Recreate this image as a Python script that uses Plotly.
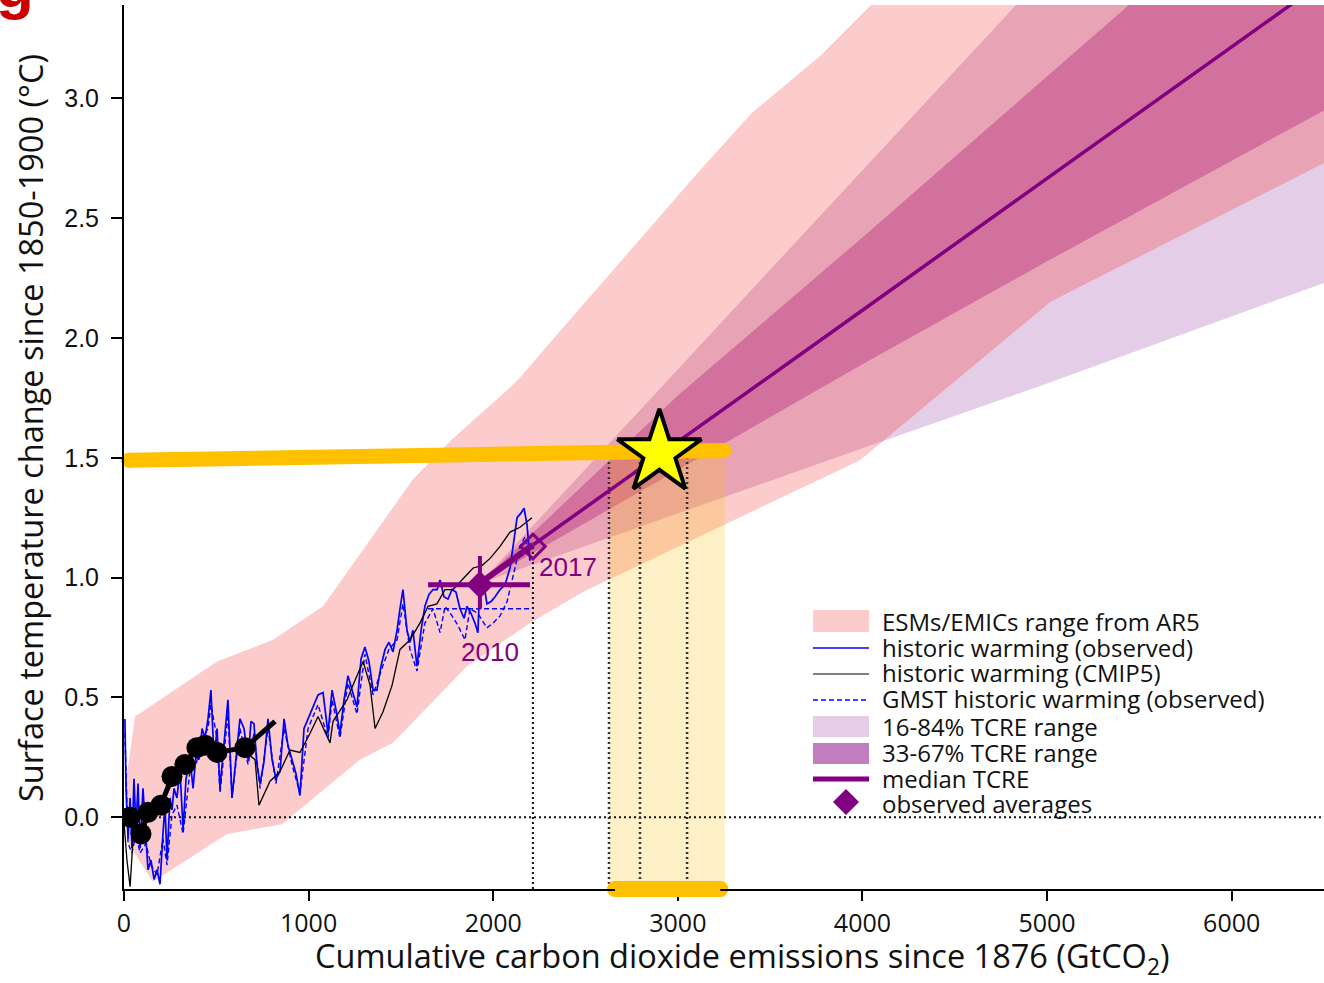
import numpy as np
import plotly.graph_objects as go

# ---------------- data (GtCO2, degC) ----------------
# ESMs/EMICs range from AR5 (upper and lower envelopes)
esm_up_x = [5, 60, 504, 807, 1078, 1565, 1782, 2129, 2307, 3120, 3402, 3775, 4046, 4460, 6500]
esm_up_y = [0.12, 0.42, 0.65, 0.74, 0.88, 1.41, 1.58, 1.82, 1.98, 2.70, 2.94, 3.18, 3.39, 3.70, 3.70]
esm_lo_x = [15, 157, 558, 856, 1278, 1457, 1858, 2199, 2486, 3987, 5032, 6500]
esm_lo_y = [-0.10, -0.27, -0.07, -0.03, 0.24, 0.31, 0.63, 0.81, 0.94, 1.49, 2.16, 2.73]

# TCRE ranges
fan_x = [1925, 3000, 4000, 5000, 6500]
tcre_p16 = [0.975, 1.27, 1.54, 1.81, 2.23]
tcre_p84 = [0.975, 1.87, 2.70, 3.53, 4.77]
tcre_p33 = [0.975, 1.45, 1.89, 2.32, 2.95]
tcre_p67 = [0.975, 1.76, 2.42, 3.09, 4.10]
med_x = [1925, 2215, 3000, 4000, 5000, 6500]
med_y = [0.975, 1.136, 1.566, 2.116, 2.666, 3.49]

# historic warming (observed)
obs_x = [5, 11, 22, 33, 43, 54, 65, 76, 87, 103, 119, 130, 146, 163, 179, 195, 211, 222, 233, 249,
         260, 271, 287, 303, 320, 336, 358, 374, 390, 406, 423, 439, 455, 471, 488, 504, 520, 542, 563, 585,
         607, 628, 650, 672, 688, 704, 720, 737, 758, 780, 802, 823, 845, 867, 888, 910, 932, 953, 975, 997,
         1024, 1051, 1078, 1105, 1127, 1148, 1170, 1192, 1213, 1235, 1262, 1284, 1305, 1327, 1349, 1370, 1392, 1414, 1435, 1457,
         1479, 1495, 1511, 1533, 1549, 1565, 1587, 1609, 1630, 1652, 1674, 1696, 1712, 1733, 1755, 1777, 1798, 1820, 1842, 1858,
         1880, 1901, 1917, 1928, 1945, 1966, 1988, 2010, 2037, 2064, 2091, 2113, 2129, 2151, 2167, 2183, 2199]
obs_y = [0.41, 0.12, -0.09, 0.08, -0.13, 0.16, -0.05, 0.14, -0.13, 0.12, -0.09, -0.22, -0.18, -0.26, -0.22, -0.28, -0.07, 0.05, -0.18, 0.08,
         0.03, 0.12, 0.08, 0.20, -0.05, 0.16, 0.24, 0.12, 0.26, 0.24, 0.37, 0.33, 0.41, 0.53, 0.24, 0.37, 0.12, 0.30, 0.49, 0.08,
         0.24, 0.41, 0.37, 0.24, 0.40, 0.39, 0.22, 0.14, 0.23, 0.41, 0.24, 0.16, 0.19, 0.41, 0.30, 0.24, 0.18, 0.09, 0.37, 0.41,
         0.46, 0.51, 0.52, 0.35, 0.53, 0.45, 0.35, 0.49, 0.59, 0.53, 0.46, 0.66, 0.71, 0.65, 0.53, 0.53, 0.63, 0.70, 0.73, 0.69,
         0.78, 0.87, 0.95, 0.78, 0.73, 0.78, 0.63, 0.78, 0.88, 0.93, 0.95, 0.95, 0.99, 0.92, 0.91, 0.95, 0.94, 0.87, 0.83, 0.88,
         0.85, 0.81, 0.77, 0.99, 0.99, 0.89, 0.90, 0.92, 0.95, 0.97, 1.04, 1.16, 1.25, 1.27, 1.29, 1.22, 1.07]

# GMST historic warming (observed)
gmst_x = [5, 22, 43, 65, 87, 119, 146, 179, 211, 233, 260, 287, 320, 358, 390, 423, 455, 471, 504, 520,
          563, 585, 628, 672, 704, 737, 780, 823, 867, 910, 953, 997, 1051, 1105, 1127, 1170, 1213, 1262, 1305, 1349,
          1392, 1435, 1479, 1511, 1549, 1587, 1630, 1674, 1712, 1739, 1777, 1809, 1847, 1874, 1917, 1966, 1999, 2037, 2075, 2118,
          2145, 2172, 2199]
gmst_y = [0.35, -0.11, -0.15, -0.07, -0.15, -0.11, -0.20, -0.24, -0.09, -0.20, 0.01, 0.05, -0.07, 0.20, 0.22, 0.33, 0.37, 0.47, 0.33, 0.10,
          0.43, 0.08, 0.37, 0.22, 0.35, 0.12, 0.37, 0.14, 0.37, 0.22, 0.10, 0.37, 0.47, 0.33, 0.49, 0.33, 0.56, 0.43, 0.68, 0.51,
          0.61, 0.70, 0.74, 0.89, 0.70, 0.61, 0.81, 0.87, 0.77, 0.88, 0.84, 0.80, 0.74, 0.87, 0.85, 0.79, 0.81, 0.84, 0.90, 1.05,
          1.13, 1.17, 1.08]
gmst_ref_x = [1647, 2210]
gmst_ref_y = [0.87, 0.87]

# historic warming (CMIP5)
cmip_x = [0, 16, 33, 49, 70, 98, 141, 195, 260, 330, 395, 466, 547, 628, 710, 731, 791, 845, 899, 953,
          1008, 1051, 1116, 1132, 1208, 1240, 1295, 1333, 1360, 1403, 1452, 1495, 1549, 1603, 1647, 1695, 1739, 1782, 1820, 1858,
          1891, 1939, 1983, 2037, 2091, 2145, 2210]
cmip_y = [-0.02, -0.18, -0.29, -0.09, -0.03, -0.07, 0.01, 0.04, 0.14, 0.21, 0.28, 0.28, 0.28, 0.29, 0.24, 0.05, 0.15, 0.19, 0.28, 0.27,
          0.35, 0.42, 0.31, 0.40, 0.49, 0.55, 0.65, 0.55, 0.37, 0.44, 0.55, 0.70, 0.74, 0.81, 0.88, 0.89, 0.95, 0.95, 0.98, 1.01,
          1.04, 1.05, 1.08, 1.13, 1.19, 1.21, 1.25]

# early observed averages (black dots)
avg_x = [32, 92, 130, 200, 260, 330, 395, 439, 504, 655]
avg_y = [0.00, -0.07, 0.02, 0.05, 0.17, 0.22, 0.29, 0.30, 0.27, 0.29]
avg_tail_x = [655, 818]
avg_tail_y = [0.29, 0.40]

# observed averages 2010 and 2017
obs2010_x, obs2010_y = 1928, 0.97
obs2010_xerr = [1647, 2199]
obs2010_yerr = [0.87, 1.09]
obs2017_x, obs2017_y = 2215, 1.13

# 1.5 degC budget overlay
target_T = 1.5
budget_lines = [2627, 2795, 3050]
budget_box = [2627, 3255]
star_x, star_y = 2900, 1.52
bar15_x = [25, 3250]
bar15_y = [1.49, 1.53]
bar_bottom_x = [2660, 3230]

x_ticks = [0, 1000, 2000, 3000, 4000, 5000, 6000]
y_ticks = [0.0, 0.5, 1.0, 1.5, 2.0, 2.5, 3.0]
y_ticklabels = ["0.0", "0.5", "1.0", "1.5", "2.0", "2.5", "3.0"]

legend_labels = ["ESMs/EMICs range from AR5", "historic warming (observed)", "historic warming (CMIP5)",
                 "GMST historic warming (observed)", "16-84% TCRE range", "33-67% TCRE range",
                 "median TCRE", "observed averages"]

# ---------------- style ----------------
C_ESM = "#fccbcb"
C_MID = "#e8a3b5"
C_LAV = "#e4cde6"
C_DARK = "#d2709e"
C_PURPLE = "#800080"
C_YEL = "#ffc000"
XR = [0, 6500]
YR = [-0.3, 3.39]
W, H = 1324, 983
ML, MR, MT, MB = 124, 0, 5, 94
PW, PH = W - ML - MR, H - MT - MB


def fx(px):
    return (px - ML) / PW


def fy(py):
    return (MT + PH - py) / PH


def dx(v):
    return (v - XR[0]) / (XR[1] - XR[0])


fig = go.Figure()


def band(xu, yu, xl, yl, color):
    fig.add_trace(go.Scatter(x=list(xu) + list(xl)[::-1], y=list(yu) + list(yl)[::-1],
                             mode="lines", fill="toself", fillcolor=color, line=dict(width=0),
                             hoverinfo="skip", showlegend=False))


def line(x, y, color, width, dash=None, mode="lines", **kw):
    fig.add_trace(go.Scatter(x=x, y=y, mode=mode, line=dict(color=color, width=width, dash=dash),
                             hoverinfo="skip", showlegend=False, **kw))


# 16-84 band (outside ESM range shows lavender)
band(fan_x, tcre_p84, fan_x, tcre_p16, C_LAV)
# ESM range
band(esm_up_x, esm_up_y, esm_lo_x, esm_lo_y, C_ESM)
# overlap 16-84 with ESM
xs = np.linspace(fan_x[0], fan_x[-1], 400)
top = np.minimum(np.interp(xs, fan_x, tcre_p84), np.interp(xs, esm_up_x, esm_up_y))
bot = np.maximum(np.interp(xs, fan_x, tcre_p16), np.interp(xs, esm_lo_x, esm_lo_y))
band(xs, top, xs, bot, C_MID)
# 33-67 band
band(fan_x, tcre_p67, fan_x, tcre_p33, C_DARK)

# yellow budget box
band(budget_box, [target_T, target_T], budget_box, [YR[0], YR[0]], "rgba(255,192,0,0.22)")

# dotted reference lines
line(XR, [0, 0], "#111111", 2, dash="2px,3px")
line([obs2017_x, obs2017_x], [YR[0], obs2017_y], "#111111", 2, dash="2px,3px")
for bx in budget_lines:
    line([bx, bx], [YR[0], target_T], "#333333", 2.5, dash="2px,3px")

# historic
line(obs_x, obs_y, "#0000ff", 1.7)
line(gmst_x, gmst_y, "#0000ff", 1.4, dash="5px,3px")
line(gmst_ref_x, gmst_ref_y, "#0000ff", 1.4, dash="5px,3px")
line(cmip_x, cmip_y, "#000000", 1.3)
line(avg_tail_x, avg_tail_y, "#000000", 5)
line(avg_x, avg_y, "#000000", 5, mode="lines+markers", marker=dict(size=21, color="#000000"))

# median TCRE
line(med_x[:2], med_y[:2], C_PURPLE, 6)
line(med_x[1:], med_y[1:], C_PURPLE, 3.5)

# observed averages
line(obs2010_xerr, [obs2010_y, obs2010_y], C_PURPLE, 5)
line([obs2010_x, obs2010_x], obs2010_yerr, C_PURPLE, 4)
fig.add_trace(go.Scatter(x=[obs2010_x], y=[obs2010_y], mode="markers",
                         marker=dict(symbol="diamond", size=21, color=C_PURPLE),
                         hoverinfo="skip", showlegend=False))
fig.add_trace(go.Scatter(x=[obs2017_x], y=[obs2017_y], mode="markers",
                         marker=dict(symbol="diamond-open", size=19, color=C_PURPLE, line=dict(width=3, color=C_PURPLE)),
                         hoverinfo="skip", showlegend=False))

# 1.5 degC yellow bars
line(bar15_x, bar15_y, C_YEL, 15)
fig.add_trace(go.Scatter(x=bar15_x, y=bar15_y, mode="markers", cliponaxis=False,
                         marker=dict(size=15, color=C_YEL), hoverinfo="skip", showlegend=False))
fig.add_shape(type="line", xref="paper", yref="paper", x0=dx(bar_bottom_x[0]), x1=dx(bar_bottom_x[1]),
              y0=0, y1=0, line=dict(color=C_YEL, width=16), layer="above")
fig.add_trace(go.Scatter(x=bar_bottom_x, y=[YR[0], YR[0]], mode="markers", cliponaxis=False,
                         marker=dict(size=16, color=C_YEL), hoverinfo="skip", showlegend=False))

# star
fig.add_trace(go.Scatter(x=[star_x], y=[star_y], mode="markers", cliponaxis=False,
                         marker=dict(symbol="star", size=63, color="#ffff00", line=dict(color="#000000", width=4)),
                         hoverinfo="skip", showlegend=False))

# year labels
fig.add_annotation(x=1983, y=0.69, text="2010", showarrow=False,
                   font=dict(family="Liberation Sans, Arial", size=26, color=C_PURPLE))
fig.add_annotation(x=2405, y=1.044, text="2017", showarrow=False,
                   font=dict(family="Liberation Sans, Arial", size=26, color=C_PURPLE))

# ---------------- legend (manual) ----------------
LEG_FONT = dict(family="Open Sans, Liberation Sans", size=24, color="#111111")
rows = [621, 647, 672, 698, 726, 752, 778, 803]
sx0, sx1, tx = 813, 869, 881
for i, (lab, ry) in enumerate(zip(legend_labels, rows)):
    fig.add_annotation(xref="paper", yref="paper", x=fx(tx), y=fy(ry), xanchor="left", yanchor="middle",
                       text=lab, showarrow=False, font=LEG_FONT, borderpad=0)
fig.add_shape(type="rect", xref="paper", yref="paper", x0=fx(sx0), x1=fx(sx1), y0=fy(632), y1=fy(610),
              fillcolor=C_ESM, line=dict(width=0), layer="above")
fig.add_shape(type="line", xref="paper", yref="paper", x0=fx(sx0), x1=fx(sx1), y0=fy(648), y1=fy(648),
              line=dict(color="#0000ff", width=1.5), layer="above")
fig.add_shape(type="line", xref="paper", yref="paper", x0=fx(sx0), x1=fx(sx1), y0=fy(674), y1=fy(674),
              line=dict(color="#000000", width=1.2), layer="above")
fig.add_shape(type="line", xref="paper", yref="paper", x0=fx(sx0), x1=fx(sx1), y0=fy(700), y1=fy(700),
              line=dict(color="#0000ff", width=1.3, dash="5px,3px"), layer="above")
fig.add_shape(type="rect", xref="paper", yref="paper", x0=fx(sx0), x1=fx(sx1), y0=fy(737), y1=fy(716),
              fillcolor="#e6cde6", line=dict(width=0), layer="above")
fig.add_shape(type="rect", xref="paper", yref="paper", x0=fx(sx0), x1=fx(sx1), y0=fy(764), y1=fy(743),
              fillcolor="#c17fbf", line=dict(width=0), layer="above")
fig.add_shape(type="line", xref="paper", yref="paper", x0=fx(sx0), x1=fx(sx1), y0=fy(779), y1=fy(779),
              line=dict(color=C_PURPLE, width=5), layer="above")
fig.add_shape(type="path", xref="paper", yref="paper",
              path="M {a},{b} L {c},{d} L {a},{e} L {f},{d} Z".format(a=fx(846), b=fy(789), c=fx(859), d=fy(802), e=fy(815), f=fx(833)),
              fillcolor=C_PURPLE, line=dict(width=0), layer="above")

# axis titles
TITLE_FONT = dict(family="Open Sans, Liberation Sans", size=32.5, color="#111111")
fig.add_annotation(xref="paper", yref="paper", x=fx(742), y=fy(957), xanchor="center", yanchor="middle",
                   text="Cumulative carbon dioxide emissions since 1876 (GtCO<sub>2</sub>)", showarrow=False,
                   font=TITLE_FONT, borderpad=0)
fig.add_annotation(xref="paper", yref="paper", x=fx(31), y=fy(428), xanchor="center", yanchor="middle",
                   text="Surface temperature change since 1850-1900 (°C)", textangle=-90, showarrow=False,
                   font=TITLE_FONT)
# panel label (cut off at the top)
fig.add_annotation(xref="paper", yref="paper", x=fx(-6), y=fy(22), xanchor="left", yanchor="bottom",
                   text="<b>g</b>", showarrow=False,
                   font=dict(family="Liberation Sans, Arial", size=62, color="#cc0000"))

fig.update_layout(
    width=W, height=H, margin=dict(l=ML, r=MR, t=MT, b=MB, pad=0),
    paper_bgcolor="white", plot_bgcolor="white", showlegend=False,
    xaxis=dict(range=XR, showgrid=False, zeroline=False, showline=True, linecolor="#000000", linewidth=2,
               ticks="outside", ticklen=10, tickwidth=2, tickcolor="#000000",
               tickvals=x_ticks, ticktext=[str(v) for v in x_ticks], ticklabelstandoff=1,
               tickfont=dict(family="Open Sans, Liberation Sans", size=25, color="#111111")),
    yaxis=dict(range=YR, showgrid=False, zeroline=False, showline=True, linecolor="#000000", linewidth=2,
               ticks="outside", ticklen=11, tickwidth=2, tickcolor="#000000",
               tickvals=y_ticks, ticktext=y_ticklabels, ticklabelstandoff=7,
               tickfont=dict(family="Liberation Sans, Arial", size=25, color="#111111")),
)

fig.write_html("out.html")
